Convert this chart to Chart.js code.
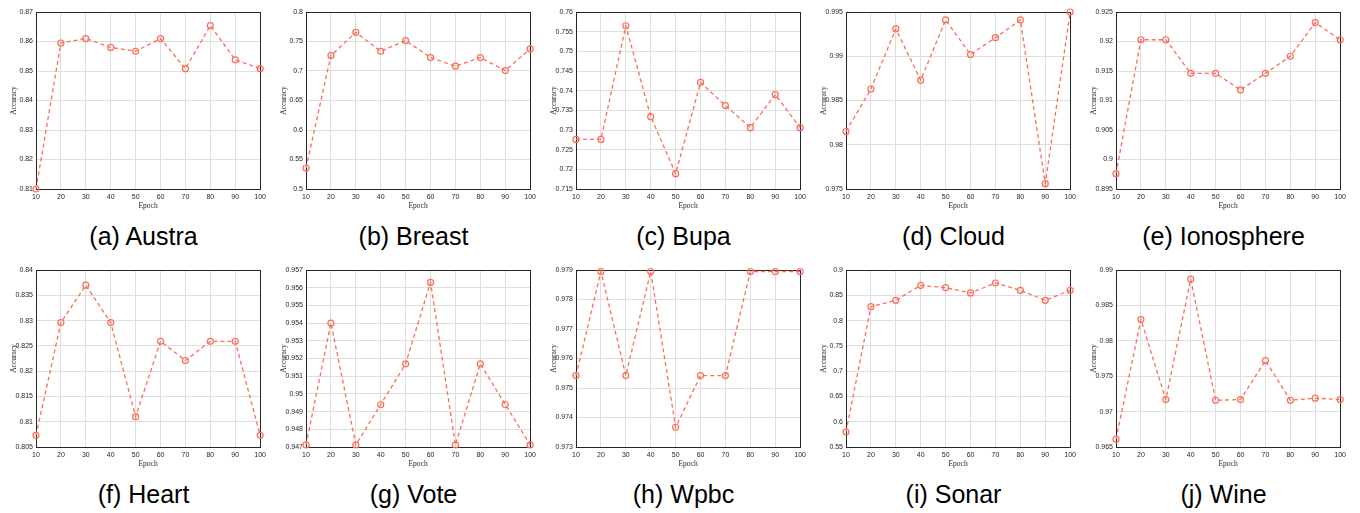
<!DOCTYPE html>
<html>
<head>
<meta charset="utf-8">
<script src="https://cdn.jsdelivr.net/npm/chart.js@4/dist/chart.umd.min.js"></script>
<style>
  body { margin: 0; background: #fff; }
  #wrap { position: relative; width: 1360px; height: 513px; overflow: hidden; }
  canvas { position: absolute; }
  .cap {
    position: absolute; width: 270px; text-align: center;
    font-family: "Liberation Sans", Arial, sans-serif; font-size: 25px; line-height: 25px; color: #000;
  }
</style>
</head>
<body>
<div id="wrap"></div>
<script>
// epochs on the x axis
const epochs = [10, 20, 30, 40, 50, 60, 70, 80, 90, 100];

// accuracy per data set
const austra     = [0.8100, 0.8595, 0.8610, 0.8580, 0.8567, 0.8610, 0.8508, 0.8654, 0.8538, 0.8508];
const breast     = [0.5356, 0.7262, 0.7656, 0.7335, 0.7515, 0.7228, 0.7081, 0.7228, 0.7008, 0.7374];
const bupa       = [0.7276, 0.7276, 0.7565, 0.7334, 0.7189, 0.7421, 0.7362, 0.7306, 0.7390, 0.7306];
const cloud      = [0.9815, 0.9863, 0.9931, 0.9873, 0.9941, 0.9902, 0.9921, 0.9941, 0.9756, 0.9950];
const ionosphere = [0.8976, 0.9203, 0.9203, 0.9146, 0.9146, 0.9118, 0.9146, 0.9175, 0.9232, 0.9203];
const heart      = [0.8073, 0.8296, 0.8370, 0.8296, 0.8110, 0.8259, 0.8221, 0.8259, 0.8259, 0.8073];
const vote       = [0.94712, 0.9540, 0.94712, 0.9494, 0.9517, 0.9563, 0.94712, 0.9517, 0.9494, 0.94712];
const wpbc       = [0.97542, 0.97895, 0.97542, 0.97895, 0.97367, 0.97542, 0.97542, 0.97895, 0.97895, 0.97895];
const sonar      = [0.5798, 0.8275, 0.8400, 0.8697, 0.8651, 0.8546, 0.8743, 0.8598, 0.8400, 0.8598];
const wine       = [0.9661, 0.9830, 0.9717, 0.9887, 0.9716, 0.9717, 0.9772, 0.9716, 0.9719, 0.9717];

// captions and y axis limits [min, max, step]
const captions = ["(a) Austra", "(b) Breast", "(c) Bupa", "(d) Cloud", "(e) Ionosphere",
                  "(f) Heart", "(g) Vote", "(h) Wpbc", "(i) Sonar", "(j) Wine"];
const series = [austra, breast, bupa, cloud, ionosphere, heart, vote, wpbc, sonar, wine];
const yLimits = [
  [0.81, 0.87, 0.01], [0.5, 0.8, 0.05], [0.715, 0.76, 0.005], [0.975, 0.995, 0.005], [0.895, 0.925, 0.005],
  [0.805, 0.84, 0.005], [0.947, 0.957, 0.001], [0.973, 0.979, 0.001], [0.55, 0.9, 0.05], [0.965, 0.99, 0.005]
];

const lineColor = 'rgb(255, 108, 88)';

// draws the full box round the plot area (MATLAB style)
const boxPlugin = {
  id: 'box',
  beforeDatasetsDraw(chart) {
    const a = chart.chartArea, c = chart.ctx;
    c.save();
    c.strokeStyle = '#262626';
    c.lineWidth = 1;
    c.strokeRect(Math.round(a.left) + 0.5, Math.round(a.top) + 0.5,
                 Math.round(a.right - a.left), Math.round(a.bottom - a.top));
    c.restore();
  }
};

const wrap = document.getElementById('wrap');

series.forEach(function(vals, i) {
  const col = i % 5, row = Math.floor(i / 5);
  const canvas = document.createElement('canvas');
  canvas.width = 270; canvas.height = 215;
  canvas.style.left = (col * 270) + 'px';
  canvas.style.top = (row * 258) + 'px';
  wrap.appendChild(canvas);

  const cap = document.createElement('div');
  cap.className = 'cap';
  cap.textContent = captions[i];
  cap.style.left = (col * 270 + 143.5 - 135) + 'px';
  cap.style.top = (224 + row * 258) + 'px';
  wrap.appendChild(cap);

  const lim = yLimits[i];
  new Chart(canvas, {
    type: 'line',
    data: {
      datasets: [{
        data: epochs.map((e, k) => ({ x: e, y: vals[k] })),
        borderColor: lineColor,
        borderWidth: 1.3,
        borderDash: [4, 3],
        pointRadius: 3,
        pointBorderWidth: 1.2,
        pointBackgroundColor: 'rgba(0,0,0,0)',
        pointBorderColor: lineColor,
        tension: 0,
        clip: false
      }]
    },
    options: {
      responsive: false,
      animation: false,
      devicePixelRatio: 1,
      layout: { padding: { top: 12, right: 9, left: 0, bottom: 0 } },
      plugins: { legend: { display: false }, tooltip: { enabled: false } },
      scales: {
        x: {
          type: 'linear', min: 10, max: 100,
          afterFit: s => { s.height = 26; },
          ticks: { stepSize: 10, padding: 4, color: '#262626', maxRotation: 0,
                   font: { family: '"Liberation Sans", Arial, sans-serif', size: 7 } },
          grid: { color: '#dedede', drawTicks: false },
          border: { display: false },
          title: { display: true, text: 'Epoch', color: '#262626', padding: { top: 0, bottom: 4.5 },
                   font: { family: '"Liberation Serif", "Times New Roman", serif', size: 7.5 } }
        },
        y: {
          min: lim[0], max: lim[1],
          afterFit: s => { s.width = 36; },
          ticks: { stepSize: lim[2], padding: 3, color: '#262626',
                   callback: v => String(Number(v.toFixed(4))),
                   font: { family: '"Liberation Sans", Arial, sans-serif', size: 7 } },
          grid: { color: '#dedede', drawTicks: false },
          border: { display: false },
          title: { display: true, text: 'Accuracy', color: '#262626', padding: { top: 9.5, bottom: 0 },
                   font: { family: '"Liberation Serif", "Times New Roman", serif', size: 7.5 } }
        }
      }
    },
    plugins: [boxPlugin]
  });
});
</script>
</body>
</html>
